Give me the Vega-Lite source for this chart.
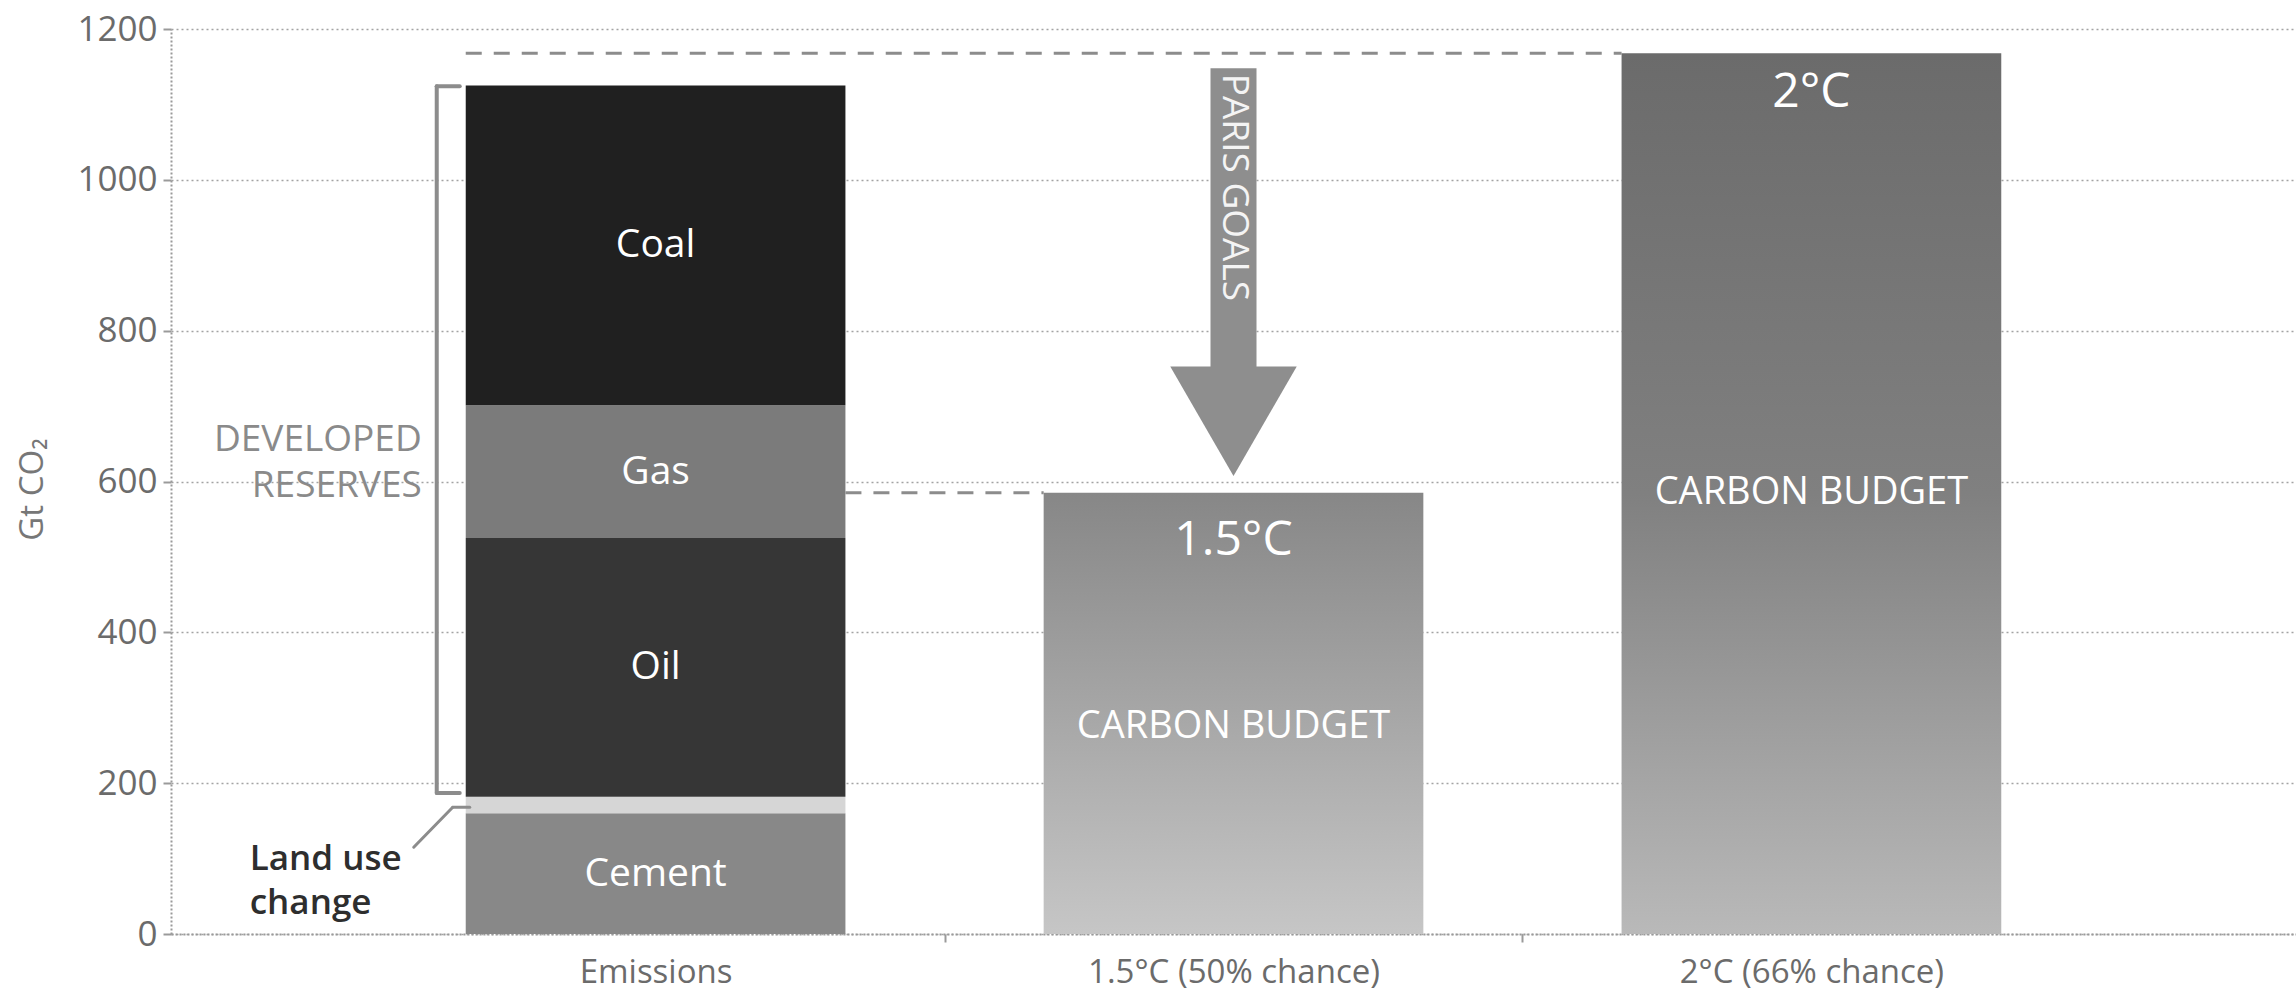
{
  "$schema": "https://vega.github.io/schema/vega-lite/v6.json",
  "width": 2125,
  "height": 905,
  "autosize": {"type": "none"},
  "padding": {"left": 171, "top": 29, "right": 0, "bottom": 58},
  "background": "#ffffff",
  "config": {"view": {"stroke": null}, "font": "Open Sans"},
  "datasets": {
    "emissions": [
      {"category": "Emissions", "source": "Cement", "value": 160, "order": 1},
      {"category": "Emissions", "source": "Land use change", "value": 22, "order": 2},
      {"category": "Emissions", "source": "Oil", "value": 343, "order": 3},
      {"category": "Emissions", "source": "Gas", "value": 176, "order": 4},
      {"category": "Emissions", "source": "Coal", "value": 424, "order": 5}
    ],
    "budgets": [
      {"category": "1.5°C (50% chance)", "label": "1.5°C", "value": 585},
      {"category": "2°C (66% chance)", "label": "2°C", "value": 1168}
    ]
  },
  "layer": [
    {
      "data": {"name": "emissions"},
      "transform": [
        {"stack": "value", "groupby": ["category"], "sort": [{"field": "order", "order": "ascending"}], "as": ["v0", "v1"]}
      ],
      "mark": {"type": "bar"},
      "encoding": {
        "x": {
          "field": "category", "type": "nominal", "title": null,
          "scale": {"type": "band", "domain": ["Emissions", "1.5°C (50% chance)", "2°C (66% chance)"], "paddingInner": 0.343, "paddingOuter": 0.51},
          "axis": {
            "title": null, "labelFontSize": 33, "labelColor": "#6b6b6b", "labelFont": "Open Sans", "labelPadding": 14, "labelAngle": 0, "labelLimit": 0,
            "labelOffset": 289, "tickOffset": -289, "tickSize": 8, "tickColor": "#9a9a9a", "tickWidth": 2,
            "tickOpacity": {"condition": {"test": "datum.value === 'Emissions'", "value": 0}, "value": 1},
            "domainColor": "#9a9a9a", "domainDash": [2, 2], "domainWidth": 2, "grid": false
          }
        },
        "y": {
          "field": "v1", "type": "quantitative", "title": "Gt CO₂",
          "scale": {"domain": [0, 1200], "nice": false},
          "axis": {
            "title": "Gt CO₂", "values": [0, 200, 400, 600, 800, 1000, 1200], "format": "d",
            "labelFontSize": 35, "labelColor": "#6b6b6b", "labelFont": "Open Sans", "labelPadding": 6,
            "tickSize": 8, "tickColor": "#9a9a9a", "tickWidth": 2,
            "grid": true, "gridColor": "#a3a3a3", "gridDash": [2, 3], "gridWidth": 1.5,
            "domainColor": "#9a9a9a", "domainDash": [2, 2], "domainWidth": 2,
            "titleFont": "Open Sans", "titleFontSize": 33, "titleFontWeight": "normal", "titleColor": "#777777",
            "titleX": -139, "titleY": 460, "titleAngle": -90, "titleAlign": "center", "titleBaseline": "middle"
          }
        },
        "y2": {"field": "v0"},
        "color": {
          "field": "source", "type": "nominal", "legend": null,
          "scale": {"domain": ["Cement", "Land use change", "Oil", "Gas", "Coal"], "range": ["#888888", "#d6d6d6", "#363636", "#7b7b7b", "#202020"]}
        }
      }
    },
    {
      "data": {"name": "budgets"},
      "transform": [{"filter": "datum.label === '2°C'"}],
      "mark": {"type": "rule", "stroke": "#8c8c8c", "strokeWidth": 3, "strokeDash": [16, 12]},
      "encoding": {
        "x": {"datum": "Emissions", "type": "nominal", "title": null, "bandPosition": 0, "scale": {"type": "band", "domain": ["Emissions", "1.5°C (50% chance)", "2°C (66% chance)"], "paddingInner": 0.343, "paddingOuter": 0.51}},
        "x2": {"datum": "2°C (66% chance)", "bandPosition": 0},
        "y": {"field": "value", "type": "quantitative", "title": "Gt CO₂", "scale": {"domain": [0, 1200], "nice": false}}
      }
    },
    {
      "data": {"name": "budgets"},
      "transform": [{"filter": "datum.label === '1.5°C'"}],
      "mark": {"type": "rule", "stroke": "#8c8c8c", "strokeWidth": 3, "strokeDash": [16, 12]},
      "encoding": {
        "x": {"datum": "Emissions", "type": "nominal", "title": null, "bandPosition": 1, "scale": {"type": "band", "domain": ["Emissions", "1.5°C (50% chance)", "2°C (66% chance)"], "paddingInner": 0.343, "paddingOuter": 0.51}},
        "x2": {"datum": "1.5°C (50% chance)", "bandPosition": 0},
        "y": {"field": "value", "type": "quantitative", "title": "Gt CO₂", "scale": {"domain": [0, 1200], "nice": false}}
      }
    },
    {
      "data": {"values": [{}]},
      "mark": {"type": "rule", "stroke": "#8c8c8c", "strokeWidth": 4, "xOffset": -29, "strokeCap": "round"},
      "encoding": {
        "x": {"datum": "Emissions", "type": "nominal", "title": null, "bandPosition": 0, "scale": {"type": "band", "domain": ["Emissions", "1.5°C (50% chance)", "2°C (66% chance)"], "paddingInner": 0.343, "paddingOuter": 0.51}},
        "y": {"datum": 1124, "type": "quantitative", "title": "Gt CO₂", "scale": {"domain": [0, 1200], "nice": false}},
        "y2": {"datum": 187}
      }
    },
    {
      "data": {"values": [{}]},
      "mark": {"type": "rule", "stroke": "#8c8c8c", "strokeWidth": 4, "xOffset": -29, "x2Offset": -6, "strokeCap": "round"},
      "encoding": {
        "x": {"datum": "Emissions", "type": "nominal", "title": null, "bandPosition": 0, "scale": {"type": "band", "domain": ["Emissions", "1.5°C (50% chance)", "2°C (66% chance)"], "paddingInner": 0.343, "paddingOuter": 0.51}},
        "x2": {"datum": "Emissions", "bandPosition": 0},
        "y": {"datum": 1124, "type": "quantitative", "title": "Gt CO₂", "scale": {"domain": [0, 1200], "nice": false}}
      }
    },
    {
      "data": {"values": [{}]},
      "mark": {"type": "rule", "stroke": "#8c8c8c", "strokeWidth": 4, "xOffset": -29, "x2Offset": -6, "strokeCap": "round"},
      "encoding": {
        "x": {"datum": "Emissions", "type": "nominal", "title": null, "bandPosition": 0, "scale": {"type": "band", "domain": ["Emissions", "1.5°C (50% chance)", "2°C (66% chance)"], "paddingInner": 0.343, "paddingOuter": 0.51}},
        "x2": {"datum": "Emissions", "bandPosition": 0},
        "y": {"datum": 187, "type": "quantitative", "title": "Gt CO₂", "scale": {"domain": [0, 1200], "nice": false}}
      }
    },
    {
      "data": {"values": [{}]},
      "mark": {"type": "rule", "stroke": "#8c8c8c", "strokeWidth": 3, "xOffset": -52, "x2Offset": -13, "strokeCap": "round"},
      "encoding": {
        "x": {"datum": "Emissions", "type": "nominal", "title": null, "bandPosition": 0, "scale": {"type": "band", "domain": ["Emissions", "1.5°C (50% chance)", "2°C (66% chance)"], "paddingInner": 0.343, "paddingOuter": 0.51}},
        "x2": {"datum": "Emissions", "bandPosition": 0},
        "y": {"datum": 115, "type": "quantitative", "title": "Gt CO₂", "scale": {"domain": [0, 1200], "nice": false}},
        "y2": {"datum": 168}
      }
    },
    {
      "data": {"values": [{}]},
      "mark": {"type": "rule", "stroke": "#8c8c8c", "strokeWidth": 3, "xOffset": -13, "x2Offset": 4, "strokeCap": "round"},
      "encoding": {
        "x": {"datum": "Emissions", "type": "nominal", "title": null, "bandPosition": 0, "scale": {"type": "band", "domain": ["Emissions", "1.5°C (50% chance)", "2°C (66% chance)"], "paddingInner": 0.343, "paddingOuter": 0.51}},
        "x2": {"datum": "Emissions", "bandPosition": 0},
        "y": {"datum": 168, "type": "quantitative", "title": "Gt CO₂", "scale": {"domain": [0, 1200], "nice": false}}
      }
    },
    {
      "data": {"name": "budgets"},
      "transform": [{"filter": "datum.label === '1.5°C'"}],
      "mark": {"type": "bar", "fill": {"gradient": "linear", "x1": 0, "y1": 0, "x2": 0, "y2": 1, "stops": [{"offset": 0, "color": "#878787"}, {"offset": 1, "color": "#c6c6c6"}]}},
      "encoding": {
        "x": {"field": "category", "type": "nominal", "title": null, "scale": {"type": "band", "domain": ["Emissions", "1.5°C (50% chance)", "2°C (66% chance)"], "paddingInner": 0.343, "paddingOuter": 0.51}},
        "y": {"field": "value", "type": "quantitative", "title": "Gt CO₂", "scale": {"domain": [0, 1200], "nice": false}}
      }
    },
    {
      "data": {"name": "budgets"},
      "transform": [{"filter": "datum.label === '2°C'"}],
      "mark": {"type": "bar", "fill": {"gradient": "linear", "x1": 0, "y1": 0, "x2": 0, "y2": 1, "stops": [{"offset": 0, "color": "#6b6b6b"}, {"offset": 0.5, "color": "#808080"}, {"offset": 1, "color": "#b9b9b9"}]}},
      "encoding": {
        "x": {"field": "category", "type": "nominal", "title": null, "scale": {"type": "band", "domain": ["Emissions", "1.5°C (50% chance)", "2°C (66% chance)"], "paddingInner": 0.343, "paddingOuter": 0.51}},
        "y": {"field": "value", "type": "quantitative", "title": "Gt CO₂", "scale": {"domain": [0, 1200], "nice": false}}
      }
    },
    {
      "data": {"name": "emissions"},
      "transform": [
        {"stack": "value", "groupby": ["category"], "sort": [{"field": "order", "order": "ascending"}], "as": ["v0", "v1"]},
        {"filter": "datum.source !== 'Land use change'"},
        {"calculate": "(datum.v0 + datum.v1) / 2", "as": "mid"}
      ],
      "mark": {"type": "text", "fill": "#ffffff", "fontSize": 39, "font": "Open Sans", "align": "center", "baseline": "middle"},
      "encoding": {
        "x": {"field": "category", "type": "nominal", "title": null, "scale": {"type": "band", "domain": ["Emissions", "1.5°C (50% chance)", "2°C (66% chance)"], "paddingInner": 0.343, "paddingOuter": 0.51}},
        "y": {"field": "mid", "type": "quantitative", "title": "Gt CO₂", "scale": {"domain": [0, 1200], "nice": false}},
        "text": {"field": "source"}
      }
    },
    {
      "data": {"values": [{}]},
      "mark": {"type": "text", "text": "1.5°C", "fill": "#ffffff", "fontSize": 48, "font": "Open Sans", "align": "center", "baseline": "middle"},
      "encoding": {
        "x": {"datum": "1.5°C (50% chance)", "type": "nominal", "title": null, "scale": {"type": "band", "domain": ["Emissions", "1.5°C (50% chance)", "2°C (66% chance)"], "paddingInner": 0.343, "paddingOuter": 0.51}},
        "y": {"datum": 521, "type": "quantitative", "title": "Gt CO₂", "scale": {"domain": [0, 1200], "nice": false}}
      }
    },
    {
      "data": {"values": [{}]},
      "mark": {"type": "text", "text": "CARBON BUDGET", "fill": "#ffffff", "fontSize": 38, "font": "Open Sans", "align": "center", "baseline": "middle"},
      "encoding": {
        "x": {"datum": "1.5°C (50% chance)", "type": "nominal", "title": null, "scale": {"type": "band", "domain": ["Emissions", "1.5°C (50% chance)", "2°C (66% chance)"], "paddingInner": 0.343, "paddingOuter": 0.51}},
        "y": {"datum": 274, "type": "quantitative", "title": "Gt CO₂", "scale": {"domain": [0, 1200], "nice": false}}
      }
    },
    {
      "data": {"values": [{}]},
      "mark": {"type": "text", "text": "2°C", "fill": "#ffffff", "fontSize": 48, "font": "Open Sans", "align": "center", "baseline": "middle"},
      "encoding": {
        "x": {"datum": "2°C (66% chance)", "type": "nominal", "title": null, "scale": {"type": "band", "domain": ["Emissions", "1.5°C (50% chance)", "2°C (66% chance)"], "paddingInner": 0.343, "paddingOuter": 0.51}},
        "y": {"datum": 1115, "type": "quantitative", "title": "Gt CO₂", "scale": {"domain": [0, 1200], "nice": false}}
      }
    },
    {
      "data": {"values": [{}]},
      "mark": {"type": "text", "text": "CARBON BUDGET", "fill": "#ffffff", "fontSize": 38, "font": "Open Sans", "align": "center", "baseline": "middle"},
      "encoding": {
        "x": {"datum": "2°C (66% chance)", "type": "nominal", "title": null, "scale": {"type": "band", "domain": ["Emissions", "1.5°C (50% chance)", "2°C (66% chance)"], "paddingInner": 0.343, "paddingOuter": 0.51}},
        "y": {"datum": 585, "type": "quantitative", "title": "Gt CO₂", "scale": {"domain": [0, 1200], "nice": false}}
      }
    },
    {
      "data": {"values": [{}]},
      "mark": {"type": "bar", "width": 46, "fill": "#8e8e8e"},
      "encoding": {
        "x": {"datum": "1.5°C (50% chance)", "type": "nominal", "title": null, "scale": {"type": "band", "domain": ["Emissions", "1.5°C (50% chance)", "2°C (66% chance)"], "paddingInner": 0.343, "paddingOuter": 0.51}},
        "y": {"datum": 1148, "type": "quantitative", "title": "Gt CO₂", "scale": {"domain": [0, 1200], "nice": false}},
        "y2": {"datum": 750}
      }
    },
    {
      "data": {"values": [{}]},
      "mark": {"type": "point", "shape": "triangle-down", "size": 16000, "filled": true, "fill": "#8e8e8e", "strokeWidth": 0, "opacity": 1},
      "encoding": {
        "x": {"datum": "1.5°C (50% chance)", "type": "nominal", "title": null, "scale": {"type": "band", "domain": ["Emissions", "1.5°C (50% chance)", "2°C (66% chance)"], "paddingInner": 0.343, "paddingOuter": 0.51}},
        "y": {"datum": 680, "type": "quantitative", "title": "Gt CO₂", "scale": {"domain": [0, 1200], "nice": false}}
      }
    },
    {
      "data": {"values": [{}]},
      "mark": {"type": "text", "text": "PARIS GOALS", "angle": 90, "fill": "#f4f4f4", "fontSize": 37, "font": "Open Sans", "align": "center", "baseline": "middle"},
      "encoding": {
        "x": {"datum": "1.5°C (50% chance)", "type": "nominal", "title": null, "scale": {"type": "band", "domain": ["Emissions", "1.5°C (50% chance)", "2°C (66% chance)"], "paddingInner": 0.343, "paddingOuter": 0.51}},
        "y": {"datum": 990, "type": "quantitative", "title": "Gt CO₂", "scale": {"domain": [0, 1200], "nice": false}}
      }
    },
    {
      "data": {"values": [{}]},
      "mark": {"type": "text", "text": ["Land use", "change"], "align": "left", "baseline": "middle", "dx": -216, "fontSize": 35, "fontWeight": 600, "fill": "#2e2e2e", "font": "Open Sans", "lineHeight": 44},
      "encoding": {
        "x": {"datum": "Emissions", "type": "nominal", "title": null, "bandPosition": 0, "scale": {"type": "band", "domain": ["Emissions", "1.5°C (50% chance)", "2°C (66% chance)"], "paddingInner": 0.343, "paddingOuter": 0.51}},
        "y": {"datum": 99, "type": "quantitative", "title": "Gt CO₂", "scale": {"domain": [0, 1200], "nice": false}}
      }
    },
    {
      "data": {"values": [{}]},
      "mark": {"type": "text", "text": ["DEVELOPED", "RESERVES"], "align": "right", "baseline": "middle", "dx": -44, "fontSize": 37, "fill": "#8a8a8a", "font": "Open Sans", "lineHeight": 46},
      "encoding": {
        "x": {"datum": "Emissions", "type": "nominal", "title": null, "bandPosition": 0, "scale": {"type": "band", "domain": ["Emissions", "1.5°C (50% chance)", "2°C (66% chance)"], "paddingInner": 0.343, "paddingOuter": 0.51}},
        "y": {"datum": 655, "type": "quantitative", "title": "Gt CO₂", "scale": {"domain": [0, 1200], "nice": false}}
      }
    }
  ]
}
